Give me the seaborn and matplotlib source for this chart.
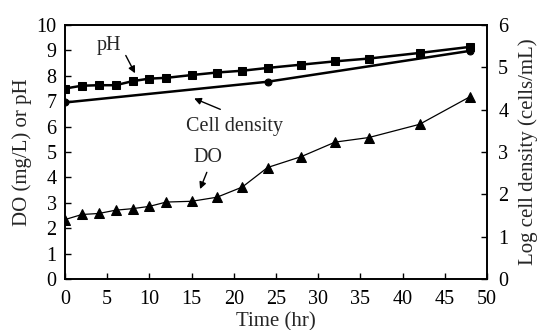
import numpy as np
import pandas as pd
import matplotlib
matplotlib.use("Agg")
import matplotlib.pyplot as plt
import seaborn as sns

# time points (hr)
time_hr = [0, 2, 4, 6, 8, 10, 12, 15, 18, 21, 24, 28, 32, 36, 42, 48]
ph_vals = [7.50, 7.61, 7.63, 7.63, 7.79, 7.89, 7.92, 8.03, 8.13, 8.20, 8.31, 8.44, 8.57, 8.68, 8.90, 9.14]
do_vals = [2.34, 2.54, 2.58, 2.71, 2.77, 2.86, 3.03, 3.06, 3.22, 3.62, 4.39, 4.82, 5.39, 5.57, 6.09, 7.18]
cell_time = [0, 24, 48]
log_cells = [4.17, 4.66, 5.39]

sns.set_style("ticks")
plt.rcParams['font.family'] = ['Liberation Serif', 'DejaVu Serif']
plt.rcParams['font.size'] = 15

fig = plt.figure(figsize=(5.4, 3.3), dpi=100)
ax = fig.add_axes([0.1204, 0.1545, 0.7815, 0.7697])

df = pd.DataFrame({'time': time_hr, 'pH': ph_vals, 'DO': do_vals})
sns.lineplot(data=df, x='time', y='pH', ax=ax, color='black', lw=1.8,
             marker='s', markersize=5.5, markeredgecolor='black')
sns.lineplot(data=df, x='time', y='DO', ax=ax, color='black', lw=0.9,
             marker='^', markersize=6.5, markeredgecolor='black')

ax2 = ax.twinx()
cells = pd.DataFrame({'time': cell_time, 'cells': log_cells})
sns.lineplot(data=cells, x='time', y='cells', ax=ax2, color='black', lw=1.8,
             marker='o', markersize=5, markeredgecolor='black')

ax.set_xlim(0, 50)
ax.set_ylim(0, 10)
ax2.set_ylim(0, 6)
ax.set_xticks(np.arange(0, 51, 5))
ax.set_yticks(np.arange(0, 11, 1))
ax2.set_yticks(np.arange(0, 7, 1))
ax.set_xlabel('Time (hr)', labelpad=2)
ax.set_ylabel('DO (mg/L) or pH', labelpad=3)
ax2.set_ylabel('Log cell density (cells/mL)', labelpad=7)

for a in (ax, ax2):
    a.tick_params(direction='in', length=4, width=1, colors='black', labelsize=14.5)
    for s in a.spines.values():
        s.set_visible(True)
        s.set_linewidth(1.2)
        s.set_color('black')
ax.tick_params(axis='x', pad=8)
ax.tick_params(axis='y', pad=6)
ax2.tick_params(axis='y', pad=8)

# labels and arrows
arrow = dict(arrowstyle='-|>', color='black', lw=1, mutation_scale=10, shrinkA=0, shrinkB=0)
ax.text(5.2, 9.2, 'pH', ha='center', va='center', fontsize=14.5)
ax.annotate('', xy=(8.3, 8.1), xytext=(7.2, 8.8), arrowprops=arrow)
ax.text(20.1, 6.0, 'Cell density', ha='center', va='center', fontsize=14.5)
ax.annotate('', xy=(15.3, 7.11), xytext=(18.4, 6.68), arrowprops=arrow)
ax.text(16.9, 4.8, 'DO', ha='center', va='center', fontsize=14.5)
ax.annotate('', xy=(16.0, 3.54), xytext=(16.8, 4.20), arrowprops=arrow)

fig.savefig('out.png', dpi=100)
